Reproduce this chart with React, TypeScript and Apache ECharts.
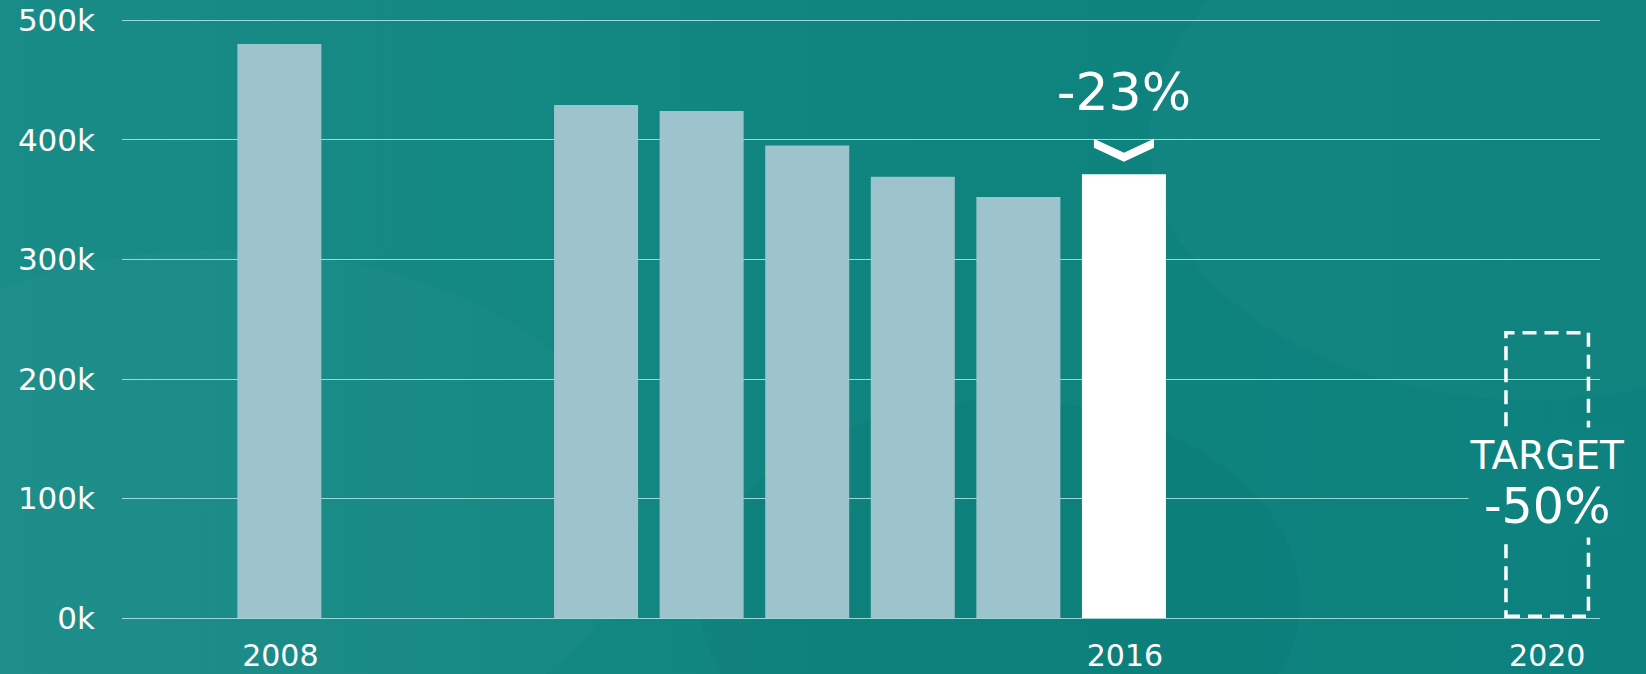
import React, { useEffect, useRef } from "react";
import * as echarts from "echarts";

const categories = ["", "2008", "2009", "2010", "2011", "2012", "2013", "2014", "2015", "2016", "2017", "2018", "2019", "2020"];
const shownYears = ["2008", "2016", "2020"];
const emissions = [null, 480000, null, null, 429000, 424000, 395000, 369000, 352000, 371000, null, null, null, null];
const target = [null, null, null, null, null, null, null, null, null, null, null, null, null, 240000];
const highlightYear = "2016";
const changeLabel = "-23%";
const targetLabel = ["TARGET", "-50%"];
const yTicks = { min: 0, max: 500000, interval: 100000 };

const FONT = "DejaVu Sans";
const W = "normal";

export default function App() {
  const ref = useRef<HTMLDivElement>(null);
  useEffect(() => {
    if (!ref.current) return;
    const chart = echarts.init(ref.current, null, { renderer: "svg" });
    const hi = categories.indexOf(highlightYear);
    const barData = emissions.map((v, i) =>
      i === hi
        ? {
            value: v,
            itemStyle: { color: "#ffffff" },
            label: {
              show: true,
              position: "top",
              distance: 56,
              formatter: changeLabel,
              color: "#ffffff",
              fontFamily: FONT,
              fontWeight: W,
              fontSize: 52,
            },
          }
        : v
    );
    const targetData = target.map((v) =>
      v == null
        ? v
        : {
            value: v,
            label: {
              show: true,
              position: "inside",
              offset: [0, 8],
              formatter: `{t|${targetLabel[0]}}\n{p|${targetLabel[1]}}`,
              backgroundColor: "#0d827e",
              padding: [4, 2],
              rich: {
                t: { fontSize: 39, lineHeight: 48, color: "#fff", fontFamily: FONT, fontWeight: W, align: "center" },
                p: { fontSize: 49, lineHeight: 54, color: "#fff", fontFamily: FONT, fontWeight: W, align: "center" },
              },
            },
          }
    );
    chart.setOption({
      animation: false,
      backgroundColor: {
        type: "linear",
        x: 0, y: 0, x2: 1, y2: 0,
        colorStops: [
          { offset: 0, color: "#1a8c88" },
          { offset: 0.5, color: "#10857f" },
          { offset: 1, color: "#0c817d" },
        ],
      },
      graphic: [
        { type: "ellipse", left: -200, top: 250, shape: { cx: 0, cy: 0, rx: 420, ry: 260 }, style: { fill: "rgba(255,255,255,0.02)" }, silent: true, z: -10 },
        { type: "ellipse", left: 1150, top: -120, shape: { cx: 0, cy: 0, rx: 380, ry: 260 }, style: { fill: "rgba(255,255,255,0.02)" }, silent: true, z: -10 },
        { type: "ellipse", left: 700, top: 400, shape: { cx: 0, cy: 0, rx: 300, ry: 200 }, style: { fill: "rgba(0,60,60,0.04)" }, silent: true, z: -10 },
      ],
      grid: { left: 122, right: 46, top: 20, bottom: 56, containLabel: false },
      xAxis: {
        type: "category",
        data: categories,
        axisLine: { show: false },
        axisTick: { show: false },
        axisLabel: {
          interval: 0,
          margin: 22,
          color: "#ffffff",
          fontFamily: FONT,
          fontWeight: W,
          fontSize: 30,
          formatter: (v: string) => (shownYears.includes(v) ? v : ""),
        },
      },
      yAxis: {
        type: "value",
        min: yTicks.min,
        max: yTicks.max,
        interval: yTicks.interval,
        axisLine: { show: false },
        axisTick: { show: false },
        splitLine: { lineStyle: { color: "rgba(190,236,236,0.8)", width: 1 } },
        axisLabel: {
          margin: 27,
          color: "#ffffff",
          fontFamily: FONT,
          fontWeight: W,
          fontSize: 31,
          formatter: (v: number) => `${v / 1000}k`,
        },
      },
      series: [
        {
          type: "bar",
          data: barData,
          barWidth: 84,
          itemStyle: { color: "#9dc4cd" },
          markPoint: {
            symbol: "path://M0,0 L30,14 L60,0 L60,9 L30,23 L0,9 Z",
            symbolSize: [60, 23],
            symbolOffset: [0, -24],
            itemStyle: { color: "#ffffff" },
            label: { show: false },
            data: [{ coord: [hi, emissions[hi]] }],
          },
        },
        {
          type: "bar",
          data: targetData,
          barWidth: 86,
          barGap: "-100%",
          z: 3,
          itemStyle: {
            color: "rgba(0,0,0,0)",
            borderColor: "#ffffff",
            borderWidth: 3.5,
            borderType: [14, 8],
          },
        },
      ],
    });
    return () => chart.dispose();
  }, []);
  return <div ref={ref} style={{ position: "fixed", left: 0, top: 0, width: 1646, height: 674 }} />;
}
